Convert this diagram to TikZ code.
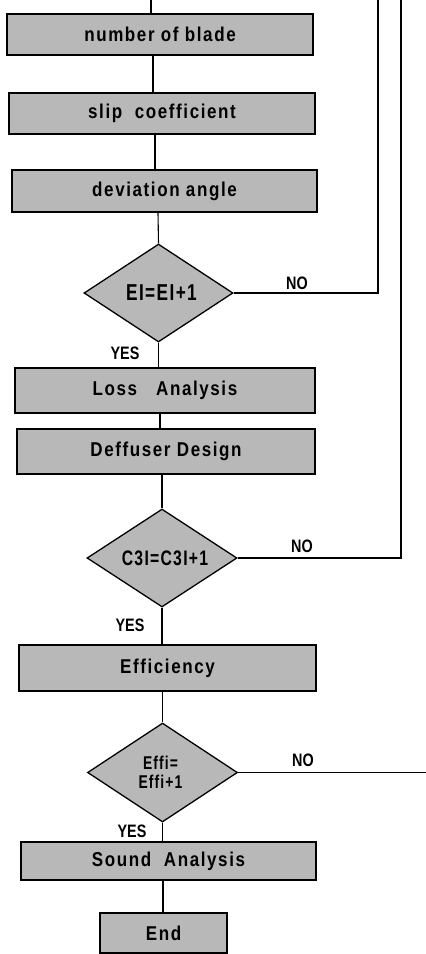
\documentclass[tikz,border=0pt]{standalone}
\usepackage{fontspec}
\setmainfont{Liberation Sans}
\newfontfamily\condfont[FakeStretch=0.85,LetterSpace=8]{Liberation Sans}
\newfontfamily\dfont[FakeStretch=0.75,LetterSpace=6]{Liberation Sans}
\newfontfamily\lblfont[FakeStretch=0.8]{Liberation Sans}
\usetikzlibrary{shapes.geometric}
\begin{document}
\begin{tikzpicture}[x=1pt,y=-1pt,
  stepbox/.style={draw=black,line width=1.3pt,fill=black!28,rectangle,inner sep=0pt,
    font=\condfont\fontsize{20}{22}\selectfont\bfseries},
  decide/.style={draw=black,line width=1.3pt,fill=black!28,diamond,inner sep=0pt},
  lbl/.style={font=\lblfont\fontsize{18}{18}\selectfont\bfseries,inner sep=0pt},
  dtext/.style={inner sep=0pt,align=center,font=\dfont\fontsize{23}{23}\selectfont\bfseries},
  conn/.style={line width=1.1pt}]
\useasboundingbox (0,0) rectangle (426,954);
\node[stepbox,minimum width=306pt,minimum height=41pt] (b1) at (160,34.5) {number of blade};
\node[stepbox,minimum width=306pt,minimum height=41pt] (b2) at (162,113.5) {slip\ \ coefficient};
\node[stepbox,minimum width=305pt,minimum height=42pt] (b3) at (164.5,191) {deviation angle};
\node[decide,minimum width=149pt,minimum height=98pt] (d1) at (158.5,293) {};
\node[dtext] (t1) at ([xshift=3pt]d1.center) {EI=EI+1};
\node[stepbox,minimum width=300pt,minimum height=45pt] (b4) at (165,390.5) {Loss\ \ \ Analysis};
\node[stepbox,minimum width=298pt,minimum height=45pt] (b5) at (166,451.5) {Deffuser Design};
\node[decide,minimum width=150pt,minimum height=98pt] (d2) at (162,558) {};
\node[dtext,font=\dfont\fontsize{21}{21}\selectfont\bfseries] (t2) at ([xshift=3pt]d2.center) {C3I=C3I+1};
\node[stepbox,minimum width=297pt,minimum height=46pt] (b6) at (167.5,668) {Efficiency};
\node[decide,minimum width=150pt,minimum height=99pt] (d3) at (162.5,772.5) {};
\node[dtext,font=\dfont\fontsize{18.5}{19.5}\selectfont\bfseries] (t3) at ([xshift=-2pt]d3.center) {Effi=\\Effi+1};
\node[stepbox,minimum width=295pt,minimum height=38pt] (b7) at (168.5,861) {Sound\ \ Analysis};
\node[stepbox,minimum width=127pt,minimum height=40pt] (b8) at (163.5,933) {End};
% spine coordinates
\coordinate (s0) at (151,0);
\coordinate (s1) at (153,0);
\coordinate (s2) at (155,0);
\coordinate (s3) at (158,0);
\coordinate (s4) at (160,0);
\coordinate (s5) at (162,0);
\coordinate (s6) at (162.5,0);
\coordinate (s7) at (163,0);
\coordinate (r1) at (378,0);
\coordinate (r2) at (401,0);
\coordinate (r3) at (426,772.5);
\draw[conn] (s0) -- (b1.north -| s0);
\draw[conn] (b1.south -| s1) -- (b2.north -| s1);
\draw[conn] (b2.south -| s2) -- (b3.north -| s2);
\draw[conn] (b3.south -| s3) -- (d1.north);
\draw[conn] (d1.south) -- (b4.north -| d1.south);
\draw[conn] (b4.south -| s4) -- (b5.north -| s4);
\draw[conn] (b5.south -| s5) -- (d2.north);
\draw[conn] (d2.south) -- (b6.north -| d2.south);
\draw[conn] (b6.south -| s6) -- (d3.north);
\draw[conn] (d3.south) -- (b7.north -| d3.south);
\draw[conn] (b7.south -| s7) -- (b8.north -| s7);
\draw[conn] (d1.east) -| (r1);
\draw[conn] (d2.east) -| (r2);
\draw[conn] (d3.east) -- (r3);
\node[lbl] (n1) at (297,283) {NO};
\node[lbl] (n2) at (302,546) {NO};
\node[lbl] (n3) at (303,760) {NO};
\node[lbl] (y1) at (125,353) {YES};
\node[lbl] (y2) at (130,625) {YES};
\node[lbl] (y3) at (132,831) {YES};
\end{tikzpicture}
\end{document}
